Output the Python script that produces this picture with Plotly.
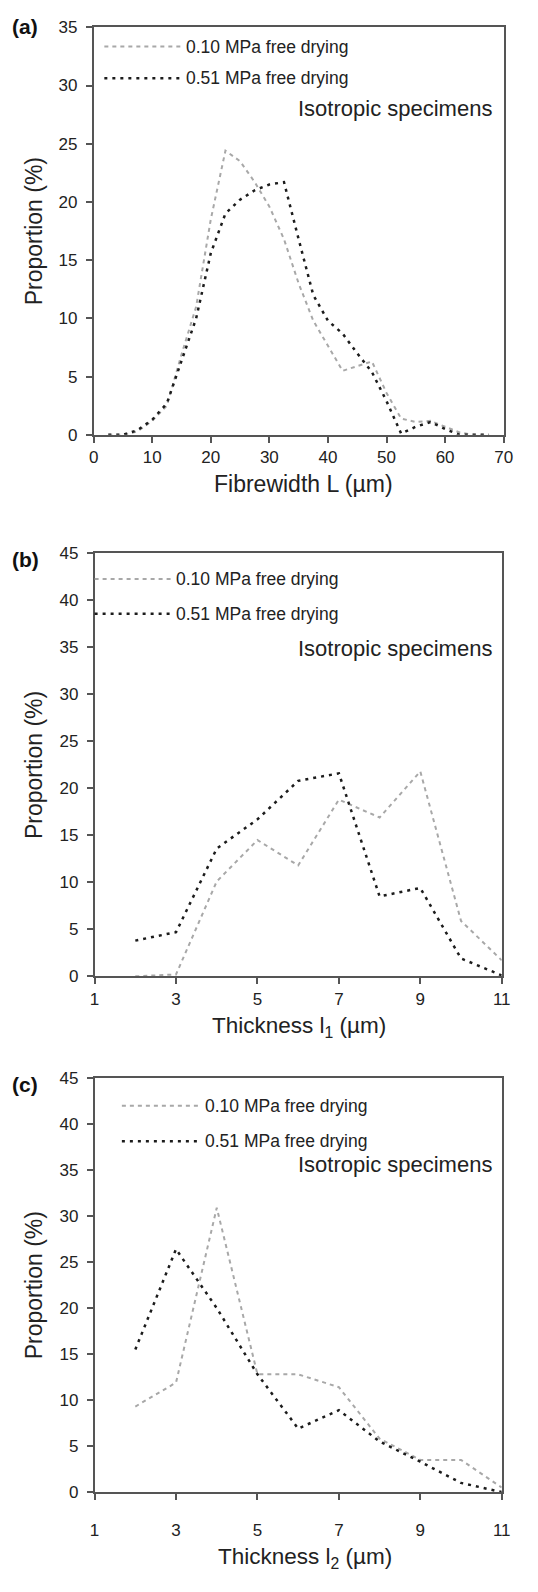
import plotly.graph_objects as go

W, H = 538, 1592
FONT = "Liberation Sans, Arial, sans-serif"

# ---------------- data ----------------
# Panel (a): fibre width L (um)
a_x = [2.5, 5, 7.5, 10, 12.5, 15, 17.5, 20, 22.5, 25, 27.5, 30, 32.5, 35, 37.5,
       40, 42.5, 45, 47.5, 50, 52.5, 55, 57.5, 60, 62.5, 65, 67.5]
a_010 = [0, 0, 0.3, 1.2, 2.5, 6.9, 11.0, 18.5, 24.4, 23.5, 21.7, 19.6, 16.8, 13.0, 9.8,
         7.7, 5.5, 5.9, 6.3, 3.6, 1.4, 1.1, 1.2, 0.7, 0.2, 0, 0]
a_051 = [0, 0, 0.4, 1.3, 2.7, 6.3, 10.0, 15.6, 19.0, 20.2, 21.0, 21.5, 21.7, 16.8, 12.0,
         9.8, 8.7, 7.0, 5.4, 2.9, 0.1, 0.7, 1.1, 0.5, 0, 0, 0]

# Panel (b): thickness l1 (um)
b_x = [2, 3, 4, 5, 6, 7, 8, 9, 10, 11]
b_010 = [0, 0.2, 10.1, 14.5, 11.8, 18.8, 16.9, 21.8, 5.9, 1.7]
b_051 = [3.8, 4.7, 13.6, 16.7, 20.8, 21.6, 8.5, 9.4, 1.9, 0.1]

# Panel (c): thickness l2 (um)
c_x = [2, 3, 4, 5, 6, 7, 8, 9, 10, 11]
c_010 = [9.3, 11.9, 30.9, 12.8, 12.8, 11.4, 5.8, 3.5, 3.5, 0.5]
c_051 = [15.5, 26.4, 20.0, 12.8, 6.9, 8.9, 5.5, 3.3, 1.0, 0.0]

series_names = ["0.10 MPa free drying", "0.51 MPa free drying"]
panel_labels = ["(a)", "(b)", "(c)"]
x_titles = ["Fibrewidth L (µm)", "Thickness l<sub>1</sub> (µm)", "Thickness l<sub>2</sub> (µm)"]
y_title = "Proportion (%)"
note = "Isotropic specimens"

# ---------------- layout geometry (pixels) ----------------
def px(x):
    return x / W

def py(y):
    return 1 - y / H

panels = [
    dict(x=a_x, s1=a_010, s2=a_051, xl=91, xr=512, yt=18.5, yb=431,
         xrange=[0, 70], dtick=10, yrange=[0, 35], tick0=0,
         xstand=0, title_y=481, title_x=306, lab_y=18,
         leg_x0=102, leg_x1=180, leg_y=[38, 70], leg_tx=184, note_y=101),
    dict(x=b_x, s1=b_010, s2=b_051, xl=92, xr=510, yt=551, yb=979,
         xrange=[1, 11], dtick=2, yrange=[0, 45], tick0=1,
         xstand=1, title_y=1030, title_x=302, lab_y=557,
         leg_x0=92, leg_x1=170, leg_y=[577, 612], leg_tx=174, note_y=647),
    dict(x=c_x, s1=c_010, s2=c_051, xl=92, xr=510, yt=1082, yb=1501,
         xrange=[1, 11], dtick=2, yrange=[0, 45], tick0=1,
         xstand=16, title_y=1568, title_x=308, lab_y=1088,
         leg_x0=120, leg_x1=200, leg_y=[1110, 1146], leg_tx=203, note_y=1169),
]

GRAY = "#a8a8a8"
BLACK = "#1c1c1c"
AXC = "#555555"

fig = go.Figure()
shapes = []
annotations = []

for i, p in enumerate(panels):
    n = "" if i == 0 else str(i + 1)
    xa, ya = "x" + n, "y" + n
    fig.add_trace(go.Scatter(x=p["x"], y=p["s1"], mode="lines", name=series_names[0],
                             line=dict(color=GRAY, width=2, dash="4px,4px"),
                             xaxis=xa, yaxis=ya, showlegend=False))
    fig.add_trace(go.Scatter(x=p["x"], y=p["s2"], mode="lines", name=series_names[1],
                             line=dict(color=BLACK, width=2.5, dash="3px,5px"),
                             xaxis=xa, yaxis=ya, showlegend=False))
    axis_common = dict(showgrid=False, zeroline=False, showline=True, linecolor=AXC,
                       linewidth=1.5, mirror=True, ticks="outside", ticklen=6,
                       tickcolor=AXC, tickwidth=1.5,
                       tickfont=dict(family=FONT, size=17, color="#222222"))
    fig.update_layout(**{
        "xaxis" + n: dict(domain=[px(p["xl"]), px(p["xr"])], range=p["xrange"],
                          dtick=p["dtick"], tick0=p["tick0"], anchor=ya,
                          ticklabelstandoff=p["xstand"], **axis_common),
        "yaxis" + n: dict(domain=[py(p["yb"]), py(p["yt"])], range=p["yrange"],
                          dtick=5, anchor=xa, ticklabelstandoff=5, **axis_common),
    })
    # panel label
    annotations.append(dict(text="<b>" + panel_labels[i] + "</b>", x=px(5), y=py(p["lab_y"]),
                            xref="paper", yref="paper", xanchor="left", yanchor="middle",
                            showarrow=False, font=dict(family=FONT, size=21, color="#111111")))
    # axis titles
    annotations.append(dict(text=y_title, x=px(30), y=py((p["yt"] + p["yb"]) / 2),
                            xref="paper", yref="paper", textangle=-90,
                            xanchor="center", yanchor="middle", showarrow=False,
                            font=dict(family=FONT, size=23, color="#222222")))
    annotations.append(dict(text=x_titles[i], x=px(p["title_x"]), y=py(p["title_y"]),
                            xref="paper", yref="paper", xanchor="center", yanchor="middle",
                            showarrow=False,
                            font=dict(family=FONT, size=23 if i == 0 else 22.5, color="#222222")))
    # note
    annotations.append(dict(text=note, x=px(400), y=py(p["note_y"]),
                            xref="paper", yref="paper", xanchor="center", yanchor="middle",
                            showarrow=False, font=dict(family=FONT, size=22, color="#222222")))
    # legend (manual)
    for k, (col, wdt, dsh) in enumerate([(GRAY, 2, "4px,4px"), (BLACK, 2.5, "3px,5px")]):
        yy = py(p["leg_y"][k])
        shapes.append(dict(type="line", xref="paper", yref="paper",
                           x0=px(p["leg_x0"]), x1=px(p["leg_x1"]), y0=yy, y1=yy,
                           line=dict(color=col, width=wdt, dash=dsh)))
        annotations.append(dict(text=series_names[k], x=px(p["leg_tx"]), y=yy,
                                xref="paper", yref="paper", xanchor="left", yanchor="middle",
                                showarrow=False, font=dict(family=FONT, size=17.5, color="#222222")))

fig.update_layout(width=W, height=H, margin=dict(l=0, r=0, t=0, b=0),
                  paper_bgcolor="white", plot_bgcolor="white",
                  shapes=shapes, annotations=annotations, showlegend=False)

fig.write_html("out.html", config={"displayModeBar": False})
